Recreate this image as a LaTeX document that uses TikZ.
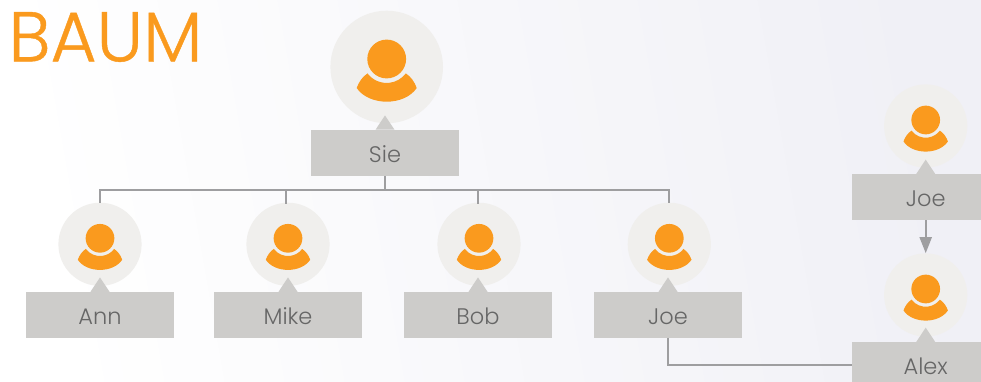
\documentclass[tikz,border=0pt]{standalone}
\usepackage{fontspec}
\setmainfont{Poppins Light}
\newfontfamily\titlefont[FakeBold=0.6]{Poppins Light}
\usetikzlibrary{arrows.meta}
\definecolor{orangeicon}{HTML}{FA9A1E}
\definecolor{discfill}{HTML}{F0EFED}
\definecolor{boxfill}{HTML}{CDCCCA}
\definecolor{linegrey}{HTML}{9E9EA0}
\definecolor{labelgrey}{HTML}{666666}
\definecolor{bgmid}{HTML}{F8F8FC}
\definecolor{bgend}{HTML}{F0F0F6}
\tikzset{
  disc/.style={circle,fill=discfill,inner sep=0pt,minimum size=83.2pt},
  bigdisc/.style={disc,minimum size=112.6pt},
  labelbox/.style={rectangle,fill=boxfill,inner sep=0pt,minimum width=148pt,minimum height=45.7pt,
    text=labelgrey,text height=18.4pt,text depth=0pt,font=\fontsize{22.5}{26}\selectfont},
  wire/.style={draw=linegrey,line width=2pt},
  title/.style={text=orangeicon,inner sep=0pt,font=\titlefont\fontsize{70.5}{80}\selectfont}
}
\newcommand{\personicon}[3]{%
  \begin{scope}[shift={(#1,#2)},scale=#3]
    \fill[orangeicon] (0,0) circle[radius=19.4];
    \fill[orangeicon] (-19.2,-14.4) arc[start angle=217,end angle=323,radius=24]
      .. controls (24,-17.5) and (28,-23) .. (30,-29)
      .. controls (24,-38) and (12,-42.7) .. (0,-42.7)
      .. controls (-12,-42.7) and (-24,-38) .. (-30,-29)
      .. controls (-28,-23) and (-24,-17.5) .. (-19.2,-14.4) -- cycle;
  \end{scope}}
\newcommand{\pointer}[1]{\fill[boxfill] (#1.north) ++(-9.5,0) -- ++(9.5,14.3) -- ++(9.5,-14.3) -- cycle;}
\begin{document}
\begin{tikzpicture}[x=1pt,y=1pt]
\useasboundingbox (0,0) rectangle (981,-382);
\shade[left color=white,middle color=bgmid,right color=bgend,shading angle=100] (0,0) rectangle (981,-382);
\node[title,anchor=center] (heading) at (105.5,-37) {BAUM};

% discs
\node[bigdisc] (siec) at (386.7,-67) {};
\node[disc] (annc) at (100,-244.3) {};
\node[disc] (mikec) at (288,-244.3) {};
\node[disc] (bobc) at (479,-244.3) {};
\node[disc] (joec) at (669.3,-244.3) {};
\node[disc] (joerc) at (925.7,-126) {};
\node[disc] (alexc) at (925.7,-295) {};

% icons
\personicon{386.7}{-59}{1}
\personicon{100}{-238.3}{0.74}
\personicon{288}{-238.3}{0.74}
\personicon{479}{-238.3}{0.74}
\personicon{669.3}{-238.3}{0.74}
\personicon{925.7}{-120}{0.74}
\personicon{925.7}{-289}{0.74}

% boxes
\node[labelbox] (sieb) at (385,-152.8) {Sie};
\node[labelbox] (annb) at (100,-314.8) {Ann};
\node[labelbox] (mikeb) at (288,-314.8) {Mike};
\node[labelbox] (bobb) at (478,-314.8) {Bob};
\node[labelbox] (joeb) at (668,-314.8) {Joe};
\node[labelbox] (joerb) at (925.7,-197) {Joe};
\node[labelbox] (alexb) at (925.7,-365) {Alex};
\pointer{sieb}\pointer{annb}\pointer{mikeb}\pointer{bobb}\pointer{joeb}\pointer{joerb}\pointer{alexb}

% connectors
\coordinate (bus) at (385,-189.5);
\coordinate (mikedrop) at (286,-203.5);
\coordinate (bobdrop) at (478,-203.5);
\draw[wire] (sieb.south) -- (bus);
\draw[wire] (annc.north) |- (bus);
\draw[wire] (mikedrop) |- (bus);
\draw[wire] (bobdrop) |- (bus);
\draw[wire] (joec.north) |- (bus);
\draw[wire] (joeb.south) |- (alexb.west);
\draw[wire,-{Triangle[length=16pt,width=12pt]}] (joerb.south) -- (alexc.north);
\end{tikzpicture}
\end{document}
